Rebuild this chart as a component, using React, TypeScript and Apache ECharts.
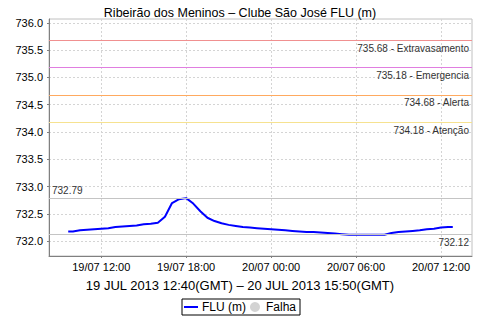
import React, { useEffect, useRef } from "react";
import * as echarts from "echarts";

// hours since 19/07/2013 00:00 (local, GMT-3)
const times = [
  9.667, 10, 10.5, 11, 11.5, 12, 12.5, 13, 13.5, 14, 14.5, 15, 15.5, 16, 16.5, 17, 17.5, 18,
  18.5, 19, 19.5, 20, 20.5, 21, 21.5, 22, 22.5, 23, 23.5, 24, 24.5, 25, 25.5, 26, 26.5, 27,
  27.5, 28, 28.5, 29, 29.5, 30, 30.5, 31, 31.5, 32, 32.5, 33, 33.5, 34, 34.5, 35, 35.5, 36,
  36.5, 36.833,
];
const levels = [
  732.18, 732.18, 732.2, 732.21, 732.22, 732.23, 732.24, 732.26, 732.27, 732.28, 732.29,
  732.31, 732.32, 732.34, 732.45, 732.7, 732.77, 732.79, 732.69, 732.55, 732.43, 732.37,
  732.33, 732.3, 732.28, 732.26, 732.25, 732.24, 732.23, 732.22, 732.21, 732.2, 732.19,
  732.18, 732.17, 732.17, 732.16, 732.15, 732.14, 732.13, 732.12, 732.12, 732.12, 732.12,
  732.12, 732.12, 732.15, 732.17, 732.18, 732.19, 732.2, 732.22, 732.23, 732.25, 732.26,
  732.26,
];
const xTicks = [12, 18, 24, 30, 36];
const yTicks = [732.0, 732.5, 733.0, 733.5, 734.0, 734.5, 735.0, 735.5, 736.0];
const thresholdValues = [735.68, 735.18, 734.68, 734.18];
const thresholdNames = ["Extravasamento", "Emergencia", "Alerta", "Atenção"];
const thresholdColors = ["#f09090", "#e07ee0", "#ffaa60", "#f6e290"];
const maxValue = 732.79;
const minValue = 732.12;

const titleText = "Ribeirão dos Meninos – Clube São José FLU (m)";
const subtitleText = "19 JUL 2013 12:40(GMT) – 20 JUL 2013 15:50(GMT)";

const FONT = "'Liberation Sans', Arial, sans-serif";

function fmtX(h: number): string {
  const day = 19 + Math.floor(h / 24);
  const hh = Math.round(h % 24);
  return `${day}/07 ${String(hh).padStart(2, "0")}:00`;
}

function refLine(name: string, value: number, color: string, text: string, position: string) {
  return {
    name,
    type: "line",
    data: [],
    silent: true,
    markLine: {
      silent: true,
      symbol: "none",
      lineStyle: { color, width: 1, type: "solid", opacity: 1 },
      emphasis: { disabled: true },
      label: {
        show: true,
        color: "#333",
        fontSize: 10,
        fontFamily: FONT,
        distance: [3, 3],
        position,
        formatter: text,
      },
      data: [{ yAxis: value }],
    },
  };
}

export default function App() {
  const ref = useRef<HTMLDivElement>(null);
  useEffect(() => {
    document.body.style.margin = "0";
    const chart = echarts.init(ref.current!, undefined, { renderer: "svg" });
    const refSeries: any[] = thresholdValues.map((v, i) =>
      refLine(
        "ref" + i,
        v,
        thresholdColors[i],
        `${v.toFixed(2)} - ${thresholdNames[i]}`,
        "insideEndBottom"
      )
    );
    refSeries.push(refLine("refMax", maxValue, "#c4c4c4", maxValue.toFixed(2), "insideStartTop"));
    refSeries.push(refLine("refMin", minValue, "#c4c4c4", minValue.toFixed(2), "insideEndBottom"));

    chart.setOption({
      animation: false,
      backgroundColor: "#fff",
      title: [
        {
          text: titleText,
          left: "center",
          top: 1,
          textStyle: { fontSize: 12.5, fontWeight: "normal", color: "#000", fontFamily: FONT },
        },
        {
          text: subtitleText,
          left: "center",
          top: 274,
          textStyle: { fontSize: 13, fontWeight: "normal", color: "#000", fontFamily: FONT },
        },
      ],
      legend: {
        left: 182,
        top: 299,
        orient: "horizontal",
        borderColor: "#000",
        borderWidth: 1,
        padding: [2, 4, 2, 2],
        itemGap: 4,
        itemWidth: 14,
        itemHeight: 10,
        textStyle: { fontSize: 12, color: "#000", fontFamily: FONT, padding: [0, 0, 0, -1] },
        data: [
          { name: "FLU (m)", icon: "path://M0,0h14v2h-14z", itemStyle: { color: "#0000ff" } },
          { name: "Falha", icon: "circle", itemStyle: { color: "#c8c8c8" } },
        ],
      },
      grid: {
        left: 49,
        right: 8,
        top: 19,
        bottom: 64,
        show: true,
        borderColor: "#c0c0c0",
        borderWidth: 1,
        backgroundColor: "#fff",
      },
      xAxis: {
        type: "value",
        min: 8.31,
        max: 38.19,
        axisLine: { show: true, onZero: false, lineStyle: { color: "#808080", width: 1 } },
        axisTick: {
          show: true,
          length: 2,
          inside: false,
          customValues: xTicks,
          lineStyle: { color: "#808080" },
        },
        axisLabel: {
          customValues: xTicks,
          formatter: (v: number) => fmtX(v),
          fontSize: 11,
          color: "#000",
          fontFamily: FONT,
          margin: 5,
        },
        splitLine: { show: true, lineStyle: { color: "#d4d4d4", type: [2, 2], width: 1 } },
      },
      yAxis: {
        type: "value",
        min: 731.73,
        max: 736.07,
        axisLine: { show: true, onZero: false, lineStyle: { color: "#808080", width: 1 } },
        axisTick: {
          show: true,
          length: 2,
          customValues: yTicks,
          lineStyle: { color: "#808080" },
        },
        axisLabel: {
          customValues: yTicks,
          formatter: (v: number) => v.toFixed(1),
          fontSize: 11,
          color: "#000",
          fontFamily: FONT,
          margin: 6,
        },
        splitLine: { show: true, lineStyle: { color: "#d4d4d4", type: [2, 2], width: 1 } },
      },
      series: [
        ...refSeries,
        {
          name: "FLU (m)",
          type: "line",
          data: times.map((t, i) => [t, levels[i]]),
          symbol: "none",
          lineStyle: { color: "#0000ff", width: 2 },
          itemStyle: { color: "#0000ff" },
        },
        {
          name: "Falha",
          type: "scatter",
          data: [],
          itemStyle: { color: "#c8c8c8" },
        },
      ],
    });
    return () => chart.dispose();
  }, []);
  return <div ref={ref} style={{ width: 480, height: 320 }} />;
}
